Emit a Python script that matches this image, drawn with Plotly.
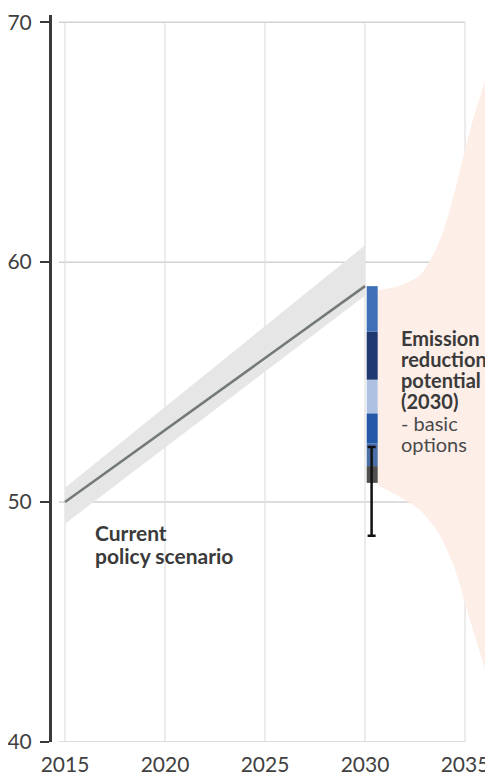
import plotly.graph_objects as go

# ---------------- data ----------------
x_ticks = [2015, 2020, 2025, 2030, 2035]
y_ticks = [40, 50, 60, 70]

# current policy scenario (central line and uncertainty band)
cps_years = [2015, 2030]
cps_values = [50.0, 59.0]
cps_upper = [50.6, 60.7]
cps_lower = [49.1, 58.6]

# emission reduction potential in 2030 (stacked segments, bottom -> top)
bar_year = 2030.36
seg_base = [50.8, 51.5, 52.45, 53.7, 55.1, 57.1]
seg_height = [0.7, 0.95, 1.25, 1.4, 2.0, 1.9]
seg_colors = ["#505050", "#4a6ea8", "#2458a8", "#aec1e3", "#1f3870", "#3f6fb7"]

# uncertainty range of the reduction potential
err_year = 2030.33
err_low = 48.6
err_high = 52.3

# pathways range (fan to the right of 2030)
fan_x = [2030.65, 2031.5, 2032.75, 2033.75, 2034.5, 2035.25, 2036.1, 2036.4]
fan_upper = [58.83, 58.96, 59.46, 60.92, 63.0, 65.5, 67.8, 68.6]
fan_lower_x = [2030.65, 2031.75, 2032.75, 2033.75, 2034.5, 2035.1, 2035.65, 2036.15, 2036.4]
fan_lower = [50.7, 50.2, 49.67, 48.6, 47.2, 45.5, 44.0, 42.6, 41.75]

FONT = "Lato, 'Open Sans', sans-serif"

fig = go.Figure()

# fan (drawn first)
fig.add_trace(go.Scatter(
    x=fan_x + fan_lower_x[::-1],
    y=fan_upper + fan_lower[::-1],
    fill="toself", fillcolor="#fdeee8",
    line=dict(width=0, shape="spline", smoothing=0.8),
    mode="lines", hoverinfo="skip", showlegend=False))

# band
fig.add_trace(go.Scatter(x=cps_years, y=cps_lower, mode="lines",
                         line=dict(width=0), showlegend=False, hoverinfo="skip"))
fig.add_trace(go.Scatter(x=cps_years, y=cps_upper, mode="lines", fill="tonexty",
                         fillcolor="#e6e6e6", line=dict(width=0),
                         showlegend=False, hoverinfo="skip"))
# central line
fig.add_trace(go.Scatter(x=cps_years, y=cps_values, mode="lines",
                         line=dict(color="#737a76", width=2.5), showlegend=False))

# stacked bar segments
for b, h, c in zip(seg_base, seg_height, seg_colors):
    fig.add_trace(go.Bar(x=[bar_year], y=[h], base=[b], width=0.55,
                         marker=dict(color=c, line=dict(width=0)),
                         showlegend=False))

# error bar
fig.add_trace(go.Scatter(
    x=[err_year], y=[err_high], mode="markers",
    marker=dict(size=1, color="rgba(0,0,0,0)"),
    error_y=dict(type="data", symmetric=False, array=[0],
                 arrayminus=[err_high - err_low],
                 color="#111111", thickness=2.5, width=4),
    showlegend=False))

# gridlines as shapes (they stop at 2035)
shapes = []
for yv in y_ticks:
    shapes.append(dict(type="line", xref="x", yref="y", x0=2014.7, x1=x_ticks[-1],
                       y0=yv, y1=yv, line=dict(color="#d2d2d2", width=1.5), layer="below"))
for xv in x_ticks:
    shapes.append(dict(type="line", xref="x", yref="y", x0=xv, x1=xv,
                       y0=y_ticks[0], y1=y_ticks[-1],
                       line=dict(color="#e0e0e0", width=1.2), layer="below"))

annotations = []
txt_bold = "#3a3a3a"
for text, yv in [("Current", 48.75), ("policy scenario", 47.79)]:
    annotations.append(dict(x=2016.4, y=yv, xref="x", yref="y", text="<b>" + text + "</b>",
                            showarrow=False, xanchor="left", yanchor="middle",
                            font=dict(family=FONT, size=21, color=txt_bold)))
em_lines = [("<b>Emission</b>", 56.83), ("<b>reduction</b>", 55.96),
            ("<b>potential</b>", 55.08), ("<b>(2030)</b>", 54.21),
            ("- basic", 53.29), ("options", 52.42)]
for text, yv in em_lines:
    annotations.append(dict(x=2031.7, y=yv, xref="x", yref="y", text=text,
                            showarrow=False, xanchor="left", yanchor="middle",
                            font=dict(family=FONT, size=20,
                                      color=txt_bold if "<b>" in text else "#4a4a4a")))

# the page adds an 8px body margin, so the figure is made 8px smaller
fig.update_layout(
    width=485, height=770,
    margin=dict(l=44, r=0, t=7, b=36),
    paper_bgcolor="white", plot_bgcolor="white",
    barmode="overlay",
    shapes=shapes, annotations=annotations,
    font=dict(family=FONT, color="#404040"),
    xaxis=dict(range=[2014.35, 2036.4], tickvals=x_ticks, showgrid=False,
               zeroline=False, showline=False, ticks="",
               ticklabelstandoff=8,
               tickfont=dict(family=FONT, size=21, color="#404040")),
    yaxis=dict(range=[40, 70.3], tickvals=y_ticks, showgrid=False, zeroline=False,
               showline=True, linecolor="#3a3a3a", linewidth=3,
               ticks="outside", ticklen=9, tickwidth=2, tickcolor="#3a3a3a",
               ticklabelstandoff=4,
               tickfont=dict(family=FONT, size=21, color="#404040")),
)

fig.write_html("out.html")
